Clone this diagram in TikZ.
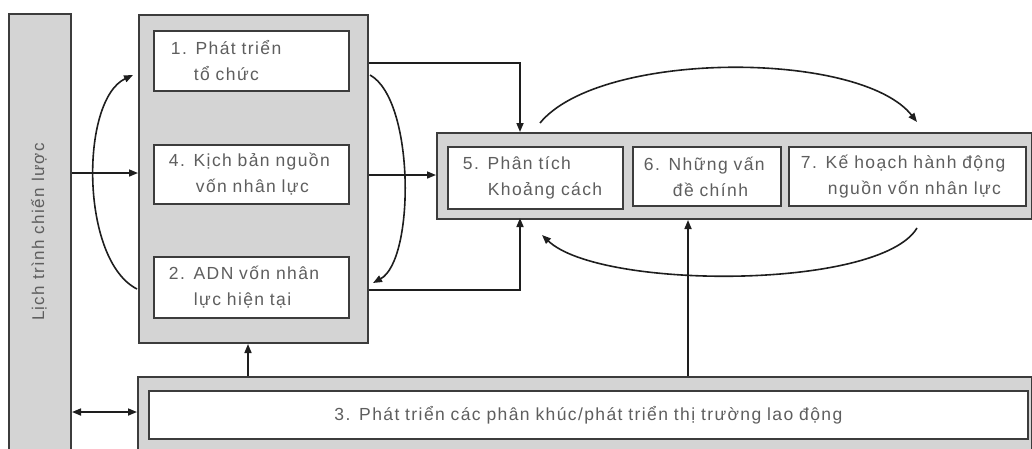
\documentclass[tikz,border=0pt]{standalone}
\usepackage{fontspec}
\setmainfont{Liberation Sans}[LetterSpace=8]
\usetikzlibrary{arrows.meta}
\definecolor{panel}{HTML}{D4D4D4}
\definecolor{edge}{HTML}{3C3C3C}
\definecolor{txt}{HTML}{5E5E5E}
\definecolor{ln}{HTML}{1E1E1E}
\begin{document}
\begin{tikzpicture}[x=1pt,y=-1pt,
  panelbox/.style={draw=edge, line width=2pt, fill=panel, anchor=north west, inner sep=0pt},
  itembox/.style={draw=edge, line width=1.8pt, fill=white, anchor=north west, inner xsep=15pt, inner ysep=0pt, align=left, text=txt, font=\fontsize{17.5}{26}\selectfont},
  conn/.style={draw=ln, line width=1.6pt, -{Triangle[length=9pt,width=7pt]}},
  dconn/.style={draw=ln, line width=1.6pt, {Triangle[length=9pt,width=7pt]}-{Triangle[length=9pt,width=7pt]}},
]
\useasboundingbox (0,0) rectangle (1032,448);
% left bar
\node[panelbox, minimum width=62pt, minimum height=450pt] (bar) at (8,13) {};
\node[rotate=90, text=txt, font=\fontsize{17}{20}\selectfont] (bartxt) at (39,232) {Lịch trình chiến lược};
% left group
\node[panelbox, minimum width=229pt, minimum height=328pt] (lg) at (138,14) {};
\node[itembox, minimum width=195pt, text width=161pt, minimum height=60pt, inner xsep=17pt] (b1) at (153,30) {1. Phát triển\\\hspace*{23pt}tổ chức};
\node[itembox, minimum width=195pt, text width=165pt, minimum height=59pt] (b4) at (153,144) {4. Kịch bản nguồn\\\hspace*{27pt}vốn nhân lực};
\node[itembox, minimum width=195pt, text width=165pt, minimum height=61pt] (b2) at (153,256) {2. ADN vốn nhân\\\hspace*{25pt}lực hiện tại};
% right group
\node[panelbox, minimum width=595pt, minimum height=86pt] (rg) at (436,132) {};
\node[itembox, minimum width=175pt, text width=145pt, minimum height=62pt] (b5) at (447,146) {5. Phân tích\\\hspace*{25pt}Khoảng cách};
\node[itembox, minimum width=148pt, text width=126pt, minimum height=59pt, inner xsep=11pt] (b6) at (632,146) {6. Những vấn\\\hspace*{29pt}đề chính};
\node[itembox, minimum width=237pt, text width=213pt, minimum height=59pt, inner xsep=12pt] (b7) at (788,146) {7. Kế hoạch hành động\\\hspace*{27pt}nguồn vốn nhân lực};
% bottom group
\node[panelbox, minimum width=894pt, minimum height=80pt] (bg) at (137,376) {};
\node[itembox, minimum width=879pt, minimum height=48pt, align=center, text width=849pt] (b3) at (148,390) {3. Phát triển các phân khúc/phát triển thị trường lao động};
% coordinates
\coordinate (c1a) at (137,289);
\coordinate (c1b) at (133,75);
\coordinate (c2a) at (370,75);
\coordinate (c2b) at (373,283);
\coordinate (t5) at (520,132);
\coordinate (u5) at (520,218);
\coordinate (a1) at (540,123);
\coordinate (a2) at (917,122);
\coordinate (a3) at (917,228);
\coordinate (a4) at (542,235);
% connectors
\draw[conn] (bar.east |- 0,173) -- (lg.west |- 0,173);
\draw[conn] (c1a) .. controls (80,260) and (80,100) .. (c1b);
\draw[conn] (c2a) .. controls (415,100) and (415,260) .. (c2b);
\draw[conn] (lg.east |- 0,63) -| (t5);
\draw[conn] (lg.east |- 0,290) -| (u5);
\draw[conn] (lg.east |- 0,175) -- (rg.west |- 0,175);
\draw[conn] (a1) .. controls (600,50) and (860,50) .. (a2);
\draw[conn] (a3) .. controls (880,290) and (600,290) .. (a4);
\draw[conn] (bg.north -| 688,0) -- (rg.south -| 688,0);
\draw[conn] (bg.north -| 248,0) -- (lg.south -| 248,0);
\draw[dconn] (bar.east |- 0,412) -- (bg.west |- 0,412);
\end{tikzpicture}
\end{document}
